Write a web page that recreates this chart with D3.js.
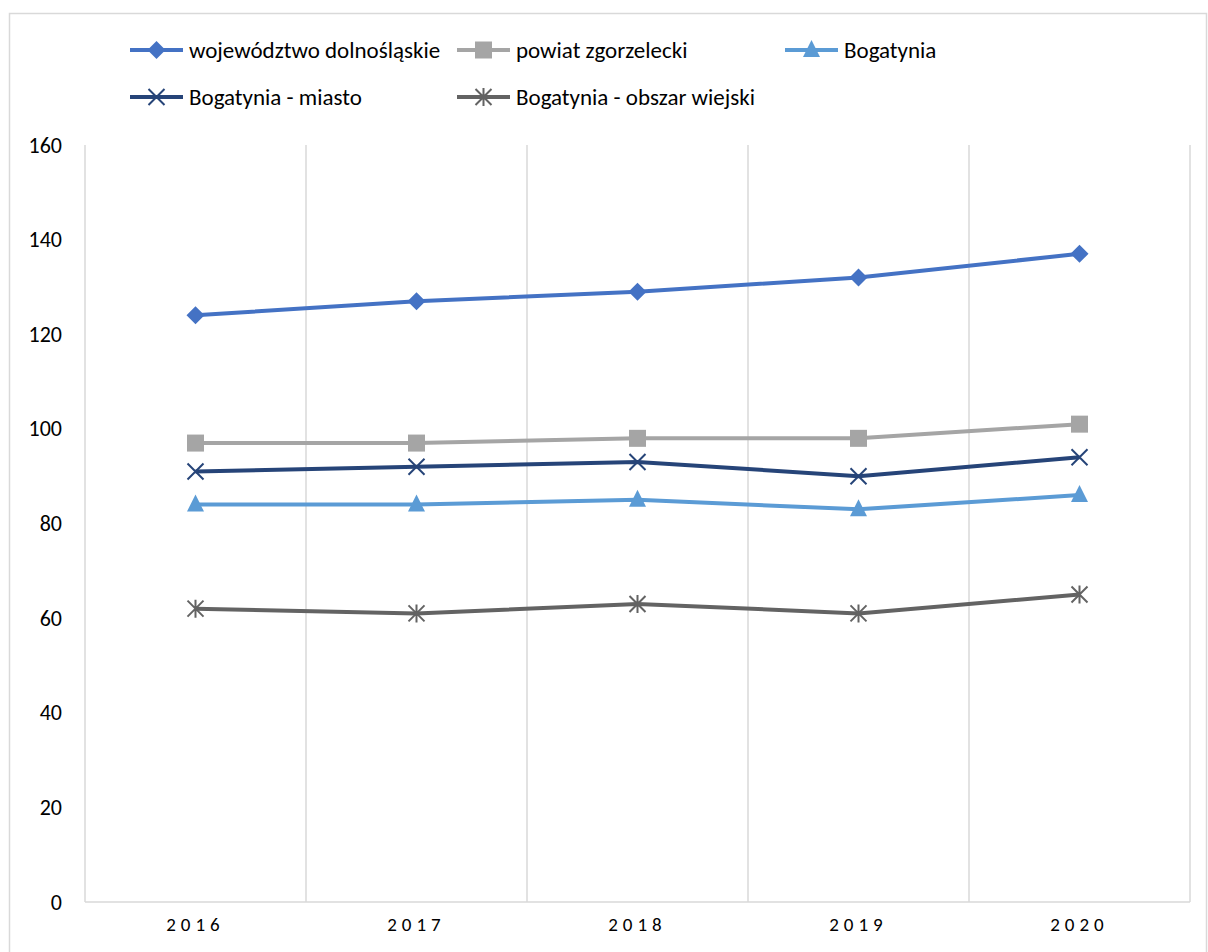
<!DOCTYPE html>
<html>
<head>
<meta charset="utf-8">
<script src="https://cdn.jsdelivr.net/npm/d3@7"></script>
<style>
  body { margin: 0; background: #fff; overflow: hidden; }
  svg { display: block; }
  svg text { font-family: Carlito, Calibri, Lato, "Open Sans", sans-serif; fill: #000; }
</style>
</head>
<body>
<div class="container"></div>
<script>
var width = 1208;
var height = 952;
var margin = {top: 145, right: 18, bottom: 50, left: 85};
var innerWidth = width - margin.left - margin.right;
var innerHeight = height - margin.top - margin.bottom;

var years = ['2016', '2017', '2018', '2019', '2020'];
var yTicks = [0, 20, 40, 60, 80, 100, 120, 140, 160];

var seriesNames = ['województwo dolnośląskie', 'powiat zgorzelecki', 'Bogatynia', 'Bogatynia - miasto', 'Bogatynia - obszar wiejski'];
var dolnoslaskie = [124, 127, 129, 132, 137];
var zgorzelecki = [97, 97, 98, 98, 101];
var bogatynia = [84, 84, 85, 83, 86];
var miasto = [91, 92, 93, 90, 94];
var wiejski = [62, 61, 63, 61, 65];

var colors = ['#4472C4', '#A5A5A5', '#5B9BD5', '#264478', '#636363'];
var markers = ['diamond', 'square', 'triangle', 'x', 'star'];
var allValues = [dolnoslaskie, zgorzelecki, bogatynia, miasto, wiejski];

var translate = function(x, y) {
    return 'translate(' + x + ',' + y + ')';
};

var XScale = d3.scaleBand().domain(years).range([0, innerWidth]);
var YScale = d3.scaleLinear().domain([0, 160]).range([innerHeight, 0]);

var line = d3.line()
    .x(function(d, i) { return XScale(years[i]) + XScale.bandwidth() / 2; })
    .y(function(d) { return YScale(d); });

var drawMarker = function(g, type, color) {
    if (type === 'diamond') {
        g.append('path').attr('d', 'M0,-9L9,0L0,9L-9,0Z').attr('fill', color);
    } else if (type === 'square') {
        g.append('rect').attr('x', -8.5).attr('y', -8.5).attr('width', 17).attr('height', 17).attr('fill', color);
    } else if (type === 'triangle') {
        g.append('path').attr('d', 'M0,-10L8.5,7L-8.5,7Z').attr('fill', color);
    } else if (type === 'x') {
        g.append('path').attr('d', 'M-8,-8L8,8M-8,8L8,-8').attr('stroke', color).attr('stroke-width', 2).attr('fill', 'none');
    } else if (type === 'star') {
        g.append('path').attr('d', 'M-8,-8L8,8M-8,8L8,-8M0,-9V9').attr('stroke', color).attr('stroke-width', 2).attr('fill', 'none');
    }
};

var svg = d3.select('.container').append('svg')
    .attr('width', width)
    .attr('height', height);

// chart frame (bottom edge is outside the picture)
svg.append('path')
    .attr('d', 'M9.5,' + height + 'V13.5H1206.5V' + height)
    .attr('fill', 'none').attr('stroke', '#d9d9d9').attr('stroke-width', 1.5);

var plot = svg.append('g').attr('transform', translate(margin.left, margin.top));

// vertical gridlines at category boundaries
var bounds = years.map(function(y) { return XScale(y); }).concat([innerWidth]);
plot.selectAll('.grid').data(bounds).enter().append('line')
    .attr('x1', function(d) { return d; }).attr('x2', function(d) { return d; })
    .attr('y1', 0).attr('y2', innerHeight)
    .attr('stroke', '#d9d9d9').attr('stroke-width', 1.5);

// x axis line
plot.append('line')
    .attr('x1', 0).attr('x2', innerWidth)
    .attr('y1', innerHeight).attr('y2', innerHeight)
    .attr('stroke', '#d9d9d9').attr('stroke-width', 1.5);

// y tick labels
var yAxis = d3.axisLeft(YScale).tickValues(yTicks).tickSize(0).tickPadding(23);
var yg = plot.append('g').call(yAxis);
yg.select('.domain').remove();
yg.selectAll('text').style('font-size', '22px').style('fill', '#000');

// x tick labels
var xAxis = d3.axisBottom(XScale).tickSize(0).tickPadding(16);
var xg = plot.append('g').attr('transform', translate(0, innerHeight)).call(xAxis);
xg.select('.domain').remove();
xg.selectAll('text').style('font-size', '19px').style('letter-spacing', '5px').style('fill', '#000');

// series
allValues.forEach(function(vals, s) {
    plot.append('path')
        .attr('d', line(vals))
        .attr('fill', 'none')
        .attr('stroke', colors[s])
        .attr('stroke-width', 4)
        .attr('stroke-linejoin', 'round');
    vals.forEach(function(v, i) {
        var g = plot.append('g').attr('transform', translate(XScale(years[i]) + XScale.bandwidth() / 2, YScale(v)));
        drawMarker(g, markers[s], colors[s]);
    });
});

// legend
var legendPos = [[130, 50], [457, 50], [785, 50], [130, 97], [457, 97]];
seriesNames.forEach(function(name, s) {
    var lg = svg.append('g').attr('transform', translate(legendPos[s][0], legendPos[s][1]));
    lg.append('line').attr('x1', 0).attr('x2', 53).attr('y1', 0).attr('y2', 0)
        .attr('stroke', colors[s]).attr('stroke-width', 4);
    var m = lg.append('g').attr('transform', translate(26.5, 0));
    drawMarker(m, markers[s], colors[s]);
    lg.append('text').attr('x', 59).attr('y', 0).attr('dy', '0.35em')
        .style('font-size', '23px').text(name);
});
</script>
</body>
</html>
